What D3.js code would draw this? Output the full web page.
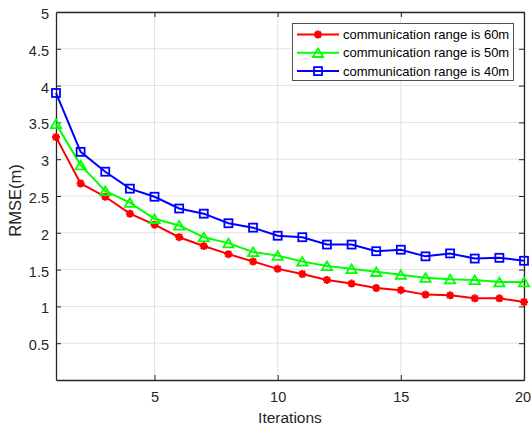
<!DOCTYPE html>
<html><head><meta charset="utf-8">
<script src="https://cdn.jsdelivr.net/npm/d3@7"></script>
<style>body{margin:0;background:#fff}svg{display:block}</style>
</head><body>
<script>
const iterations = d3.range(1, 21);
const range60 = [3.30,2.67,2.49,2.26,2.11,1.94,1.82,1.71,1.61,1.51,1.44,1.36,1.31,1.25,1.22,1.16,1.15,1.11,1.11,1.06];
const range50 = [3.48,2.92,2.57,2.41,2.19,2.10,1.94,1.86,1.74,1.69,1.61,1.55,1.51,1.47,1.43,1.39,1.37,1.36,1.33,1.33];
const range40 = [3.90,3.10,2.83,2.60,2.49,2.33,2.26,2.13,2.07,1.96,1.94,1.84,1.84,1.75,1.77,1.68,1.72,1.65,1.66,1.62];
const seriesNames = ["communication range is 60m","communication range is 50m","communication range is 40m"];
const xTicks = [5,10,15,20];
const yTicks = [0.5,1,1.5,2,2.5,3,3.5,4,4.5,5];

const W=531,H=425;
const m={l:56,t:12,r:524,b:380};
const x=d3.scaleLinear().domain([1,20]).range([m.l,m.r]);
const y=d3.scaleLinear().domain([0,5]).range([m.b,m.t]);
const svg=d3.select("body").append("svg").attr("width",W).attr("height",H)
  .style("font-family","Arial, 'Liberation Sans', sans-serif");
const axc="#262626";

// grid
const g=svg.append("g");
g.selectAll(".gx").data(xTicks).join("line").attr("x1",d=>x(d)).attr("x2",d=>x(d))
 .attr("y1",m.t).attr("y2",m.b).attr("stroke","#e2e2e2").attr("stroke-width",1);
g.selectAll(".gy").data(yTicks).join("line").attr("y1",d=>y(d)).attr("y2",d=>y(d))
 .attr("x1",m.l).attr("x2",m.r).attr("stroke","#e2e2e2").attr("stroke-width",1);

// axes
const fmt=d=>String(d);
const ax=svg.append("g").attr("transform",`translate(0,${m.b})`)
 .call(d3.axisBottom(x).tickValues(xTicks).tickFormat(fmt).tickSizeInner(-5).tickSizeOuter(0).tickPadding(12));
const axT=svg.append("g").attr("transform",`translate(0,${m.t})`)
 .call(d3.axisTop(x).tickValues(xTicks).tickFormat("").tickSizeInner(-5).tickSizeOuter(0));
const ay=svg.append("g").attr("transform",`translate(${m.l},0)`)
 .call(d3.axisLeft(y).tickValues(yTicks).tickFormat(fmt).tickSizeInner(-5).tickSizeOuter(0).tickPadding(7));
const ayR=svg.append("g").attr("transform",`translate(${m.r},0)`)
 .call(d3.axisRight(y).tickValues(yTicks).tickFormat("").tickSizeInner(-5).tickSizeOuter(0));
[ax,axT,ay,ayR].forEach(a=>{
  a.select(".domain").attr("stroke",axc).attr("stroke-width",1.3);
  a.selectAll(".tick line").attr("stroke",axc);
  a.selectAll("text").attr("fill",axc).style("font-size","14.5px");
});
ay.selectAll("text").attr("dy","0.45em");
ay.selectAll(".tick").filter(d=>d===5).select("line").remove();
ax.selectAll(".tick").filter(d=>d===20).select("text").attr("dx","-1.5");

svg.append("text").attr("x",x(10.5)).attr("y",423).attr("text-anchor","middle")
 .attr("fill",axc).style("font-size","15.5px").text("Iterations");
svg.append("text").attr("transform",`translate(21,${200.5}) rotate(-90)`)
 .attr("text-anchor","middle").attr("fill",axc).style("font-size","16.5px").text("RMSE(m)");

const colors=["#ff0000","#00ff00","#0000ff"];
const datasets=[range60,range50,range40];
const line=d3.line().x((d,i)=>x(iterations[i])).y(d=>y(d));

function marker(sel,type,color){
  if(type===0){
    const r=4;
    sel.append("path").attr("d",`M${-r},0L${r},0M0,${-r}L0,${r}M${-r*0.72},${-r*0.72}L${r*0.72},${r*0.72}M${-r*0.72},${r*0.72}L${r*0.72},${-r*0.72}`)
      .attr("stroke",color).attr("stroke-width",2.2).attr("fill","none");
  } else if(type===1){
    sel.append("path").attr("d","M0,-4.4L5.1,4.2L-5.1,4.2Z")
      .attr("stroke",color).attr("stroke-width",1.8).attr("fill","none");
  } else {
    sel.append("rect").attr("x",-4).attr("y",-4).attr("width",8).attr("height",8)
      .attr("stroke",color).attr("stroke-width",1.8).attr("fill","none");
  }
}

datasets.forEach((ds,k)=>{
  svg.append("path").datum(ds).attr("d",line).attr("fill","none")
    .attr("stroke",colors[k]).attr("stroke-width",2);
  ds.forEach((v,i)=>{
    const gm=svg.append("g").attr("transform",`translate(${x(iterations[i])},${y(v)})`);
    marker(gm,k,colors[k]);
  });
});

// legend
const lg=svg.append("g");
lg.append("rect").attr("x",292.5).attr("y",23.5).attr("width",221).attr("height",57)
  .attr("fill","#fff").attr("stroke",axc).attr("stroke-width",0.8);
seriesNames.forEach((nm,k)=>{
  const yy=34.5+k*18.3;
  lg.append("line").attr("x1",297).attr("x2",339).attr("y1",yy).attr("y2",yy)
    .attr("stroke",colors[k]).attr("stroke-width",2);
  const gm=lg.append("g").attr("transform",`translate(318,${yy})`);
  marker(gm,k,colors[k]);
  lg.append("text").attr("x",343).attr("y",yy).attr("dy","0.35em")
    .attr("fill","#000").style("font-size","13px").text(nm);
});
</script>
</body></html>
